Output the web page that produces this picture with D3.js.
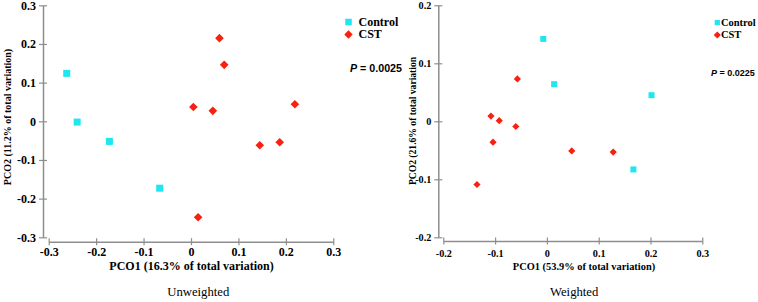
<!DOCTYPE html>
<html>
<head>
<meta charset="utf-8">
<script src="https://cdn.jsdelivr.net/npm/d3@7"></script>
<style>
  html, body { margin: 0; padding: 0; background: #fff; }
  svg { display: block; }
</style>
</head>
<body>
<svg id="chart" width="758" height="302"></svg>
<script>
// values, [PCO1, PCO2]
const unweightedControl = [[-0.262, 0.124], [-0.240, -0.002], [-0.172, -0.052], [-0.066, -0.173]]
const unweightedCST = [[0.060, 0.215], [0.070, 0.146], [0.005, 0.037], [0.046, 0.027],
  [0.219, 0.044], [0.145, -0.062], [0.187, -0.054], [0.015, -0.248]]
const weightedControl = [[-0.007, 0.142], [0.014, 0.064], [0.202, 0.045], [0.167, -0.083]]
const weightedCST = [[-0.057, 0.073], [-0.108, 0.009], [-0.092, 0.001], [-0.060, -0.009],
  [-0.104, -0.036], [0.048, -0.051], [0.128, -0.053], [-0.135, -0.109]]

const unweightedXTicks = [-0.3, -0.2, -0.1, 0, 0.1, 0.2, 0.3]
const unweightedYTicks = [-0.3, -0.2, -0.1, 0, 0.1, 0.2, 0.3]
const weightedXTicks = [-0.2, -0.1, 0, 0.1, 0.2, 0.3]
const weightedYTicks = [-0.2, -0.1, 0, 0.1, 0.2]

const groups = ["Control", "CST"]
const pValues = ["0.0025", "0.0225"]

const CYAN = "#1fe6ef"
const RED = "#f8200f"
const AXIS = "#8e8e8e"
const SERIF = "'Liberation Serif', 'Times New Roman', serif"
const SANS = "'Liberation Sans', Arial, sans-serif"

const fmt = (d) => (d === 0 ? "0" : String(+d.toFixed(1)))

const svg = d3.select("#chart")

function diamond(cx, cy, r) {
  return `M${cx},${cy - r}L${cx + r},${cy}L${cx},${cy + r}L${cx - r},${cy}Z`
}

function drawPanel(o) {
  const g = svg.append("g")
  const x = d3.scaleLinear().domain(d3.extent(o.xTicks)).range(o.xRange)
  const y = d3.scaleLinear().domain(d3.extent(o.yTicks)).range(o.yRange)

  // y axis
  const ya = g.append("g")
    .attr("transform", `translate(${o.yAxisX},0)`)
    .call(d3.axisLeft(y).tickValues(o.yTicks).tickFormat(fmt).tickSizeInner(4).tickSizeOuter(0).tickPadding(o.yPad))
  ya.select(".domain").attr("stroke", AXIS).attr("stroke-width", 1.5)
  ya.selectAll(".tick line").attr("stroke", AXIS).attr("stroke-width", 1.2).attr("x1", 4)
  ya.selectAll(".tick text")
    .attr("fill", "#000").attr("font-family", SERIF).attr("font-weight", "bold")
    .attr("font-size", o.tickFont)

  // x axis, offset below the y axis
  const xa = g.append("g")
    .attr("transform", `translate(0,${o.xAxisY})`)
    .call(d3.axisBottom(x).tickValues(o.xTicks).tickFormat(fmt).tickSizeInner(3.5).tickSizeOuter(0).tickPadding(o.xPad))
  xa.select(".domain").attr("stroke", AXIS).attr("stroke-width", 1.5)
  xa.selectAll(".tick line").attr("stroke", AXIS).attr("stroke-width", 1.2).attr("y1", -3.5)
  xa.selectAll(".tick text")
    .attr("fill", "#000").attr("font-family", SERIF).attr("font-weight", "bold")
    .attr("font-size", o.tickFont)

  // axis titles
  g.append("text")
    .attr("x", o.xTitleX).attr("y", o.xTitleY)
    .attr("text-anchor", "middle")
    .attr("font-family", SERIF).attr("font-weight", "bold").attr("font-size", o.xTitleFont)
    .text(o.xTitle)
  g.append("text")
    .attr("transform", `translate(${o.yTitleX},${o.yTitleY}) rotate(-90)`)
    .attr("text-anchor", "middle")
    .attr("font-family", SERIF).attr("font-weight", "bold").attr("font-size", o.yTitleFont)
    .text(o.yTitle)

  // caption
  g.append("text")
    .attr("x", o.captionX).attr("y", 295.5)
    .attr("text-anchor", "middle")
    .attr("font-family", SERIF).attr("font-size", 12.7)
    .text(o.caption)

  // points
  g.append("g").selectAll("rect").data(o.control).join("rect")
    .attr("x", (d) => x(d[0]) - o.sq / 2)
    .attr("y", (d) => y(d[1]) - o.sq / 2)
    .attr("width", o.sq).attr("height", o.sq)
    .attr("fill", CYAN)
  g.append("g").selectAll("path").data(o.cst).join("path")
    .attr("d", (d) => diamond(x(d[0]), y(d[1]), o.dm))
    .attr("fill", RED)

  // legend
  const lg = g.append("g").attr("transform", `translate(${o.legendX},${o.legendY})`)
  groups.forEach((name, i) => {
    const cy = i * 12.5
    if (i === 0) {
      lg.append("rect").attr("x", -o.legSq / 2).attr("y", cy - o.legSq / 2)
        .attr("width", o.legSq).attr("height", o.legSq).attr("fill", CYAN)
    } else {
      lg.append("path").attr("d", diamond(0, cy, o.legDm)).attr("fill", RED)
    }
    lg.append("text")
      .attr("x", o.legTextDx).attr("y", cy + o.legFont * 0.33)
      .attr("font-family", SERIF).attr("font-weight", "bold").attr("font-size", o.legFont)
      .text(name)
  })

  // p value
  const pt = g.append("text")
    .attr("x", o.pX).attr("y", o.pY)
    .attr("font-family", SANS).attr("font-weight", "bold").attr("font-size", o.pFont)
  pt.append("tspan").attr("font-style", "italic").text("P")
  pt.append("tspan").text(` = ${o.p}`)
}

drawPanel({
  control: unweightedControl, cst: unweightedCST,
  xTicks: unweightedXTicks, yTicks: unweightedYTicks,
  xRange: [48.7, 333.3], yRange: [237.3, 5.3],
  yAxisX: 43, xAxisY: 241.7,
  tickFont: 12, yPad: 3, xPad: 2.5,
  xTitle: "PCO1 (16.3% of total variation)", xTitleX: 191.5, xTitleY: 270, xTitleFont: 12,
  yTitle: "PCO2 (11.2% of total variation)", yTitleX: 10.5, yTitleY: 117, yTitleFont: 10,
  caption: "Unweighted", captionX: 198.3,
  sq: 7, dm: 4.3,
  legendX: 348.5, legendY: 22, legSq: 6.5, legDm: 4.2, legTextDx: 10, legFont: 12,
  p: pValues[0], pX: 350, pY: 72, pFont: 10.7,
})

drawPanel({
  control: weightedControl, cst: weightedCST,
  xTicks: weightedXTicks, yTicks: weightedYTicks,
  xRange: [443.3, 702.3], yRange: [237.3, 5.3],
  yAxisX: 438.3, xAxisY: 241,
  tickFont: 10.2, yPad: 3, xPad: 5,
  xTitle: "PCO1 (53.9% of total variation)", xTitleX: 584, xTitleY: 269.5, xTitleFont: 10.4,
  yTitle: "PCO2 (21.6% of total variation", yTitleX: 416, yTitleY: 121, yTitleFont: 9.6,
  caption: "Weighted", captionX: 574.2,
  sq: 6, dm: 3.6,
  legendX: 717.3, legendY: 22.5, legSq: 5.2, legDm: 3.6, legTextDx: 3.6, legFont: 10.5,
  p: pValues[1], pX: 711, pY: 75.5, pFont: 9,
})
</script>
</body>
</html>
